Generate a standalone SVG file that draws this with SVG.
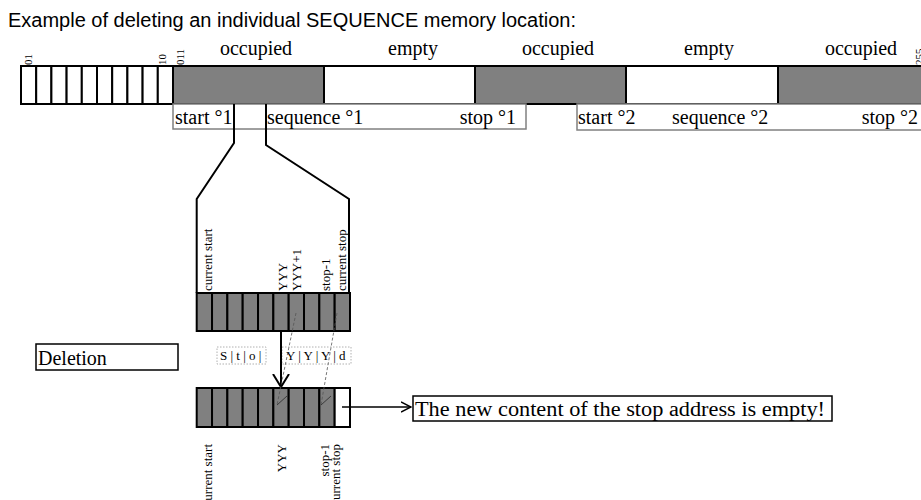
<svg xmlns="http://www.w3.org/2000/svg" width="921" height="500" viewBox="0 0 921 500">
<defs>
<style>
.t{font-family:"Liberation Serif","Times New Roman",serif;fill:#000;font-size:20px}
.s{font-family:"Liberation Serif","Times New Roman",serif;fill:#000;font-size:11px}
.r{font-family:"Liberation Serif","Times New Roman",serif;fill:#000;font-size:13px}
.a{font-family:"Liberation Sans",Arial,sans-serif;fill:#000;font-size:20px}
.c{fill:#fff;stroke:#000;stroke-width:2}
.g{fill:#808080;stroke:#000;stroke-width:2}
.lb{fill:#fff;stroke:#808080;stroke-width:1.5}
.bx{fill:#fff;stroke:#000;stroke-width:1.5}
.db{fill:#fff;stroke:#b0b0b0;stroke-width:1;stroke-dasharray:1.5 1.5}
.con{fill:none;stroke:#000;stroke-width:2}
.thin{fill:none;stroke:#000;stroke-width:1.5}
.dash{fill:none;stroke:#555;stroke-width:0.8;stroke-dasharray:3 2}
.tick{fill:none;stroke:#333;stroke-width:0.9}
</style>
<marker id="vbig" viewBox="0 0 14 18" refX="13" refY="9" markerWidth="14" markerHeight="18" markerUnits="userSpaceOnUse" orient="auto">
<path d="M0,1 L13,9 L0,17" fill="none" stroke="#000" stroke-width="2"/>
</marker>
<marker id="vsm" viewBox="0 0 11 12" refX="10" refY="6" markerWidth="11" markerHeight="12" markerUnits="userSpaceOnUse" orient="auto">
<path d="M0,1 L10,6 L0,11" fill="none" stroke="#000" stroke-width="1.5"/>
</marker>
</defs>
<rect width="921" height="500" fill="#fff"/>

<g id="title">
<text class="a" x="8" y="27">Example of deleting an individual SEQUENCE memory location:</text>
</g>

<g id="memory-strip">
<rect class="c" x="21" y="66" width="15.2" height="38"/>
<rect class="c" x="36.2" y="66" width="15.2" height="38"/>
<rect class="c" x="51.4" y="66" width="15.2" height="38"/>
<rect class="c" x="66.6" y="66" width="15.2" height="38"/>
<rect class="c" x="81.8" y="66" width="15.2" height="38"/>
<rect class="c" x="97" y="66" width="15.2" height="38"/>
<rect class="c" x="112.2" y="66" width="15.2" height="38"/>
<rect class="c" x="127.4" y="66" width="15.2" height="38"/>
<rect class="c" x="142.6" y="66" width="15.2" height="38"/>
<rect class="c" x="157.8" y="66" width="15.2" height="38"/>
<rect class="g" x="173" y="66" width="151" height="38"/>
<rect class="c" x="324" y="66" width="151" height="38"/>
<rect class="g" x="475" y="66" width="151" height="38"/>
<rect class="c" x="626" y="66" width="152" height="38"/>
<rect class="g" x="778" y="66" width="160" height="38"/>
<text class="s" transform="translate(32,65) rotate(-90)">01</text>
<text class="s" transform="translate(166,65) rotate(-90)">10</text>
<text class="s" transform="translate(184,65) rotate(-90)">011</text>
<text class="s" transform="translate(923,65) rotate(-90)">255</text>
<text class="t" x="256" y="55" text-anchor="middle">occupied</text>
<text class="t" x="413" y="55" text-anchor="middle">empty</text>
<text class="t" x="558" y="55" text-anchor="middle">occupied</text>
<text class="t" x="709" y="55" text-anchor="middle">empty</text>
<text class="t" x="861" y="55" text-anchor="middle">occupied</text>
</g>

<g id="sequence-1-labels">
<rect class="lb" x="173" y="104" width="353" height="25"/>
<text class="t" x="175" y="124">start °1</text>
<text class="t" x="267" y="124">sequence °1</text>
<text class="t" x="516" y="124" text-anchor="end">stop °1</text>
</g>

<g id="sequence-2-labels">
<rect class="lb" x="577" y="104" width="360" height="26"/>
<text class="t" x="578" y="124">start °2</text>
<text class="t" x="672" y="124">sequence °2</text>
<text class="t" x="918" y="124" text-anchor="end">stop °2</text>
</g>

<g id="row-before">
<rect class="g" x="196.7" y="293" width="15.33" height="38"/>
<rect class="g" x="212.03" y="293" width="15.33" height="38"/>
<rect class="g" x="227.36" y="293" width="15.33" height="38"/>
<rect class="g" x="242.69" y="293" width="15.33" height="38"/>
<rect class="g" x="258.02" y="293" width="15.33" height="38"/>
<rect class="g" x="273.35" y="293" width="15.33" height="38"/>
<rect class="g" x="288.68" y="293" width="15.33" height="38"/>
<rect class="g" x="304.01" y="293" width="15.33" height="38"/>
<rect class="g" x="319.34" y="293" width="15.33" height="38"/>
<rect class="g" x="334.67" y="293" width="15.33" height="38"/>
<text class="r" transform="translate(212,291) rotate(-90)">current start</text>
<text class="r" transform="translate(287,291) rotate(-90)">YYY</text>
<text class="r" transform="translate(301,291) rotate(-90)">YYY+1</text>
<text class="r" transform="translate(330,291) rotate(-90)">stop-1</text>
<text class="r" transform="translate(346,291) rotate(-90)">current stop</text>
</g>

<g id="row-after">
<rect class="g" x="196.7" y="388" width="15.33" height="39"/>
<rect class="g" x="212.03" y="388" width="15.33" height="39"/>
<rect class="g" x="227.36" y="388" width="15.33" height="39"/>
<rect class="g" x="242.69" y="388" width="15.33" height="39"/>
<rect class="g" x="258.02" y="388" width="15.33" height="39"/>
<rect class="g" x="273.35" y="388" width="15.33" height="39"/>
<rect class="g" x="288.68" y="388" width="15.33" height="39"/>
<rect class="g" x="304.01" y="388" width="15.33" height="39"/>
<rect class="g" x="319.34" y="388" width="15.33" height="39"/>
<rect class="c" x="334.67" y="388" width="15.33" height="39"/>
<text class="r" transform="translate(212,444) rotate(-90)" text-anchor="end">current start</text>
<text class="r" transform="translate(286,444) rotate(-90)" text-anchor="end">YYY</text>
<text class="r" transform="translate(329,444) rotate(-90)" text-anchor="end">stop-1</text>
<text class="r" transform="translate(340,444) rotate(-90)" text-anchor="end">current stop</text>
</g>

<g id="sto-box">
<rect class="db" x="217" y="347" width="49" height="17"/>
<text class="r" x="220" y="360">S | t | o |</text>
</g>
<g id="yyyd-box">
<rect class="db" x="282" y="347" width="69" height="17"/>
<text class="r" x="286" y="360">Y | Y | Y | d</text>
</g>

<g id="deletion">
<rect class="bx" x="36" y="344" width="142" height="26"/>
<text class="t" x="38" y="365">Deletion</text>
</g>

<g id="message">
<rect class="bx" x="413" y="396" width="419" height="25"/>
<text class="t" x="415" y="416" font-size="22" textLength="410" lengthAdjust="spacingAndGlyphs">The new content of the stop address is empty!</text>
</g>

<g id="connectors">
<path class="con" d="M234,104 V143 L196.7,199 V293"/>
<path class="con" d="M266,104 V145 L349,199 V293"/>
<path class="con" d="M281,331 V387" marker-end="url(#vbig)"/>
<path class="thin" d="M342,407 H411" marker-end="url(#vsm)"/>
<path class="dash" d="M296,313 L277,405"/>
<path class="tick" d="M277,405 L287,396"/>
<path class="dash" d="M337,313 L321,405"/>
<path class="tick" d="M321,405 L331,396"/>
</g>
</svg>
